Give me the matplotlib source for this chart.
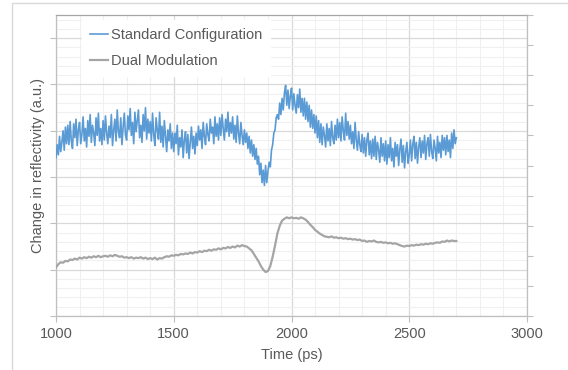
import numpy as np
import matplotlib
matplotlib.use("Agg")
import matplotlib.pyplot as plt
from matplotlib.ticker import MultipleLocator
from matplotlib.patches import Rectangle

plt.rcParams['font.family'] = ['Liberation Sans', 'DejaVu Sans']

# ---------------- data ----------------
series_names = ["Standard Configuration", "Dual Modulation"]

time_std = np.arange(1000, 2701, 5)   # ps
std_values = [
    3.42, 3.70, 3.48, 3.88, 3.55, 3.75, 4.00, 3.58, 4.08, 3.72,
    4.12, 3.70, 4.20, 3.78, 3.62, 4.15, 3.85, 4.25, 3.68, 4.02,
    4.18, 3.72, 3.92, 4.30, 3.78, 4.05, 3.65, 4.22, 3.88, 4.35,
    3.75, 4.12, 3.95, 3.68, 4.28, 3.90, 4.38, 3.78, 4.05, 3.70,
    4.22, 3.80, 4.32, 3.95, 3.72, 4.10, 3.85, 4.35, 3.68, 4.02,
    4.25, 3.78, 4.45, 3.98, 3.85, 4.28, 3.70, 4.08, 4.38, 3.90,
    3.80, 4.32, 4.02, 4.48, 3.90, 4.18, 3.72, 4.40, 3.98, 4.22,
    4.45, 3.85, 4.12, 3.75, 4.35, 4.00, 4.50, 3.82, 4.25, 3.95,
    4.20, 3.78, 4.38, 3.92, 3.68, 4.28, 4.02, 3.82, 4.40, 3.75,
    4.10, 3.65, 4.22, 3.90, 3.55, 4.02, 3.78, 4.15, 3.62, 3.95,
    3.55, 3.95, 3.72, 4.12, 3.48, 3.85, 3.65, 4.02, 3.42, 3.80,
    3.98, 3.52, 3.92, 3.40, 3.75, 4.08, 3.62, 3.88, 3.50, 3.95,
    3.68, 4.10, 3.80, 4.02, 3.62, 4.18, 3.88, 3.70, 4.15, 3.92,
    3.78, 4.25, 3.95, 4.08, 3.72, 4.30, 3.88, 4.15, 3.80, 4.28,
    3.90, 4.35, 4.05, 3.80, 4.25, 3.98, 4.40, 3.88, 4.18, 3.95,
    4.30, 3.82, 4.12, 3.75, 4.32, 3.95, 3.72, 4.18, 3.90, 3.70,
    4.02, 3.75, 3.95, 3.62, 3.88, 3.52, 3.80, 3.45, 3.70, 3.38,
    3.62, 3.28, 3.45, 3.05, 3.30, 2.88, 3.15, 2.82, 3.25, 2.88,
    3.12, 3.32, 3.22, 3.58, 3.70, 3.95, 4.02, 4.28, 4.35, 4.25,
    4.60, 4.35, 4.70, 4.45, 4.82, 4.98, 4.55, 4.88, 4.48, 4.75,
    4.92, 4.45, 4.80, 4.55, 4.38, 4.78, 4.50, 4.90, 4.40, 4.70,
    4.32, 4.70, 4.25, 4.62, 4.20, 4.55, 4.08, 4.45, 4.05, 4.35,
    3.95, 4.32, 3.85, 4.22, 3.75, 4.15, 3.70, 4.08, 3.90, 3.65,
    4.15, 3.78, 4.05, 3.68, 4.20, 3.85, 3.72, 4.12, 3.80, 4.25,
    3.85, 4.18, 3.78, 4.30, 4.00, 3.80, 4.38, 3.90, 4.20, 3.82,
    4.12, 3.72, 3.98, 3.62, 4.18, 3.80, 3.58, 3.98, 3.70, 3.55,
    3.92, 3.52, 3.85, 3.45, 3.80, 3.95, 3.48, 3.78, 3.40, 3.82,
    3.45, 3.88, 3.38, 3.75, 3.58, 3.32, 3.85, 3.45, 3.72, 3.35,
    3.78, 3.28, 3.70, 3.42, 3.85, 3.35, 3.62, 3.22, 3.75, 3.45,
    3.70, 3.25, 3.60, 3.82, 3.32, 3.68, 3.20, 3.55, 3.75, 3.30,
    3.48, 3.80, 3.35, 3.70, 3.88, 3.40, 3.75, 3.30, 3.65, 3.85,
    3.42, 3.78, 3.52, 3.90, 3.38, 3.72, 3.85, 3.45, 3.92, 3.55,
    3.40, 3.80, 3.62, 3.35, 3.88, 3.52, 3.75, 3.42, 3.90, 3.58,
    3.85, 3.48, 3.90, 3.55, 3.80, 3.42, 3.95, 3.62, 4.02, 3.72,
    3.85,
]

time_dual = np.arange(1000, 2701, 10)  # ps
dual_values = [
    1.05, 1.12, 1.16, 1.15, 1.19, 1.18, 1.22, 1.21, 1.24, 1.22,
    1.26, 1.24, 1.27, 1.25, 1.28, 1.26, 1.29, 1.27, 1.30, 1.27,
    1.29, 1.30, 1.28, 1.31, 1.29, 1.32, 1.30, 1.28, 1.29, 1.26,
    1.27, 1.25, 1.27, 1.24, 1.26, 1.25, 1.27, 1.24, 1.26, 1.23,
    1.25, 1.23, 1.26, 1.22, 1.25, 1.24, 1.27, 1.29, 1.28, 1.31,
    1.30, 1.32, 1.31, 1.34, 1.33, 1.35, 1.34, 1.37, 1.35, 1.38,
    1.37, 1.40, 1.38, 1.41, 1.40, 1.43, 1.41, 1.44, 1.43, 1.46,
    1.44, 1.47, 1.46, 1.49, 1.47, 1.50, 1.48, 1.52, 1.50, 1.53,
    1.51, 1.50, 1.46, 1.42, 1.34, 1.26, 1.18, 1.08, 1.00, 0.95,
    0.97, 1.08, 1.28, 1.52, 1.78, 1.95, 2.06, 2.10, 2.13, 2.11,
    2.13, 2.11, 2.12, 2.10, 2.13, 2.11, 2.08, 2.03, 1.97, 1.92,
    1.86, 1.82, 1.78, 1.75, 1.72, 1.71, 1.70, 1.72, 1.69, 1.70,
    1.68, 1.69, 1.67, 1.68, 1.66, 1.67, 1.65, 1.66, 1.64, 1.65,
    1.62, 1.63, 1.60, 1.62, 1.61, 1.63, 1.60, 1.59, 1.60, 1.58,
    1.59, 1.57, 1.58, 1.56, 1.57, 1.55, 1.53, 1.51, 1.50, 1.52,
    1.51, 1.53, 1.52, 1.54, 1.53, 1.55, 1.54, 1.56, 1.55, 1.57,
    1.56, 1.58, 1.59, 1.58, 1.61, 1.60, 1.63, 1.61, 1.63, 1.62,
    1.62,
]

colors = ["#5B9BD5", "#A5A5A5"]

# ---------------- figure ----------------
W, H = 568, 370
fig = plt.figure(figsize=(W / 100, H / 100), dpi=100)
fig.patch.set_facecolor("white")

# chart-area border
fig.add_artist(Rectangle((12 / W, -0.01), 1.0, (H - 3) / H + 0.01,
                         transform=fig.transFigure, fill=False,
                         edgecolor="#D9D9D9", linewidth=1.0))

ax = fig.add_axes([56 / W, (H - 316) / H, (527 - 56) / W, (316 - 15) / H])

ax.plot(time_std, std_values, color=colors[0], linewidth=1.2,
        label=series_names[0], zorder=3)
ax.plot(time_dual, dual_values, color=colors[1], linewidth=1.6,
        label=series_names[1], zorder=3)

ax.set_xlim(1000, 3000)
ax.set_ylim(0, 6.5)
ax.xaxis.set_major_locator(MultipleLocator(500))
ax.xaxis.set_minor_locator(MultipleLocator(100))
ax.yaxis.set_major_locator(MultipleLocator(1))
ax.yaxis.set_minor_locator(MultipleLocator(0.2))

ax.grid(which="major", color="#D9D9D9", linewidth=0.9, zorder=0)
ax.grid(which="minor", color="#F0F0F0", linewidth=0.8, zorder=0)
ax.set_axisbelow(True)

ax.tick_params(axis="x", which="major", direction="out", length=4,
               color="#BFBFBF", labelsize=10.5, labelcolor="#595959", pad=4)
ax.tick_params(axis="y", which="major", direction="out", length=4,
               color="#BFBFBF", labelleft=False)
ax.tick_params(which="minor", length=0)

for side in ["left", "bottom", "right"]:
    ax.spines[side].set_color("#BFBFBF")
ax.spines["top"].set_color("#A6A6A6")
for s in ax.spines.values():
    s.set_linewidth(0.9)

# secondary (right) axis ticks, no labels
ax2 = ax.twinx()
ax2.set_ylim(0, 10)
ax2.yaxis.set_major_locator(MultipleLocator(1))
ax2.tick_params(axis="y", direction="out", length=4, color="#BFBFBF",
                labelright=False)
for s in ax2.spines.values():
    s.set_visible(False)

ax.set_xlabel("Time (ps)", fontsize=10.5, color="#595959", labelpad=5)
ax.set_ylabel("Change in reflectivity (a.u.)", fontsize=10.5,
              color="#595959", labelpad=4)

leg = ax.legend(loc="upper left", bbox_to_anchor=(82 / W, 1 - 20 / H),
                bbox_transform=fig.transFigure, frameon=True, fancybox=False,
                fontsize=10.5, handlelength=1.25, handletextpad=0.2,
                labelspacing=0.85, borderpad=0.55, borderaxespad=0)
leg.get_frame().set_facecolor("white")
leg.get_frame().set_edgecolor("white")
leg.get_frame().set_alpha(1)
for t in leg.get_texts():
    t.set_color("#595959")
leg.set_zorder(5)

fig.savefig("out.png", dpi=100, facecolor="white")
